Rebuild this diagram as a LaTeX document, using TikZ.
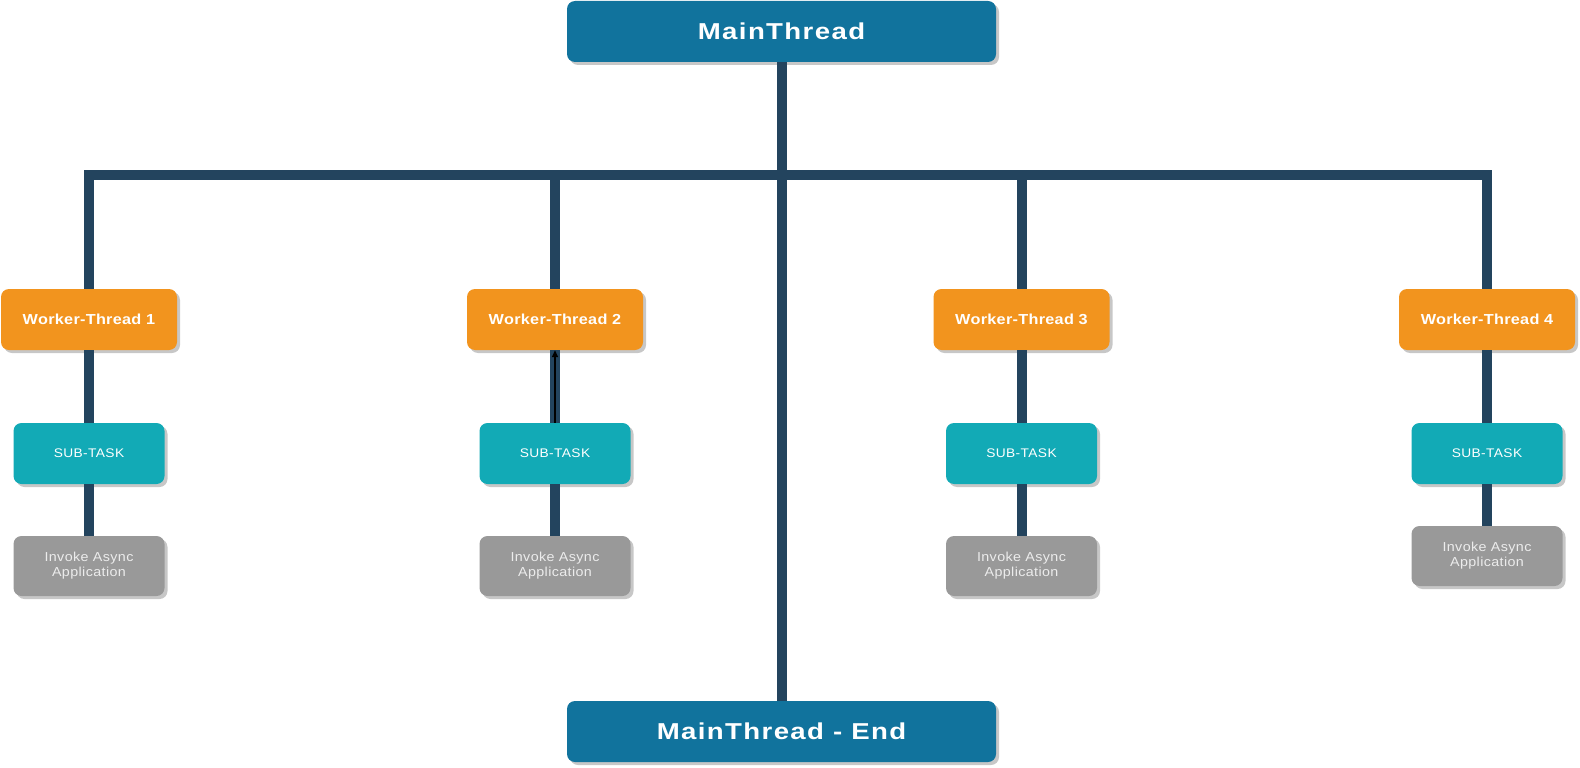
\documentclass[tikz,border=0pt]{standalone}
\usepackage{fontspec}
\setmainfont{Liberation Sans}
\newfontfamily\fmain[FakeStretch=1.2,LetterSpace=6]{Liberation Sans}
\newfontfamily\fworker[FakeStretch=1.12,LetterSpace=2]{Liberation Sans}
\newfontfamily\fsub[FakeStretch=1.1,LetterSpace=3]{Liberation Sans}
\newfontfamily\finv[FakeStretch=1.1,LetterSpace=3]{Liberation Sans}
\usetikzlibrary{shadows,arrows.meta}
\definecolor{mainblue}{RGB}{17,115,157}
\definecolor{workorange}{RGB}{242,148,30}
\definecolor{subteal}{RGB}{18,170,182}
\definecolor{invgrey}{RGB}{153,153,153}
\definecolor{invtext}{RGB}{236,236,236}
\definecolor{linecol}{RGB}{35,68,94}
\tikzset{
  boxbase/.style={rounded corners=8pt, inner sep=0pt, align=center,
    drop shadow={shadow xshift=3pt, shadow yshift=-3pt, fill=black, opacity=0.22}},
  mainbox/.style={boxbase, fill=mainblue, text=white, minimum width=429pt, minimum height=61pt,
    font=\fmain\bfseries\fontsize{23}{27}\selectfont},
  workerbox/.style={boxbase, fill=workorange, text=white, minimum width=176pt, minimum height=61pt,
    font=\fworker\bfseries\fontsize{14.5}{17}\selectfont},
  subbox/.style={boxbase, fill=subteal, text=white, minimum width=151pt, minimum height=61pt,
    font=\fsub\fontsize{12.5}{15}\selectfont},
  invbox/.style={boxbase, fill=invgrey, text=invtext, minimum width=151pt, minimum height=60pt,
    font=\finv\fontsize{13}{15}\selectfont},
  conn/.style={draw=linecol, line width=10pt, line join=miter},
  arr/.style={draw=black, line width=1.5pt, -{Triangle[length=7pt,width=6pt]}}
}
\begin{document}
\begin{tikzpicture}[x=1pt,y=-1pt]
\useasboundingbox[fill=white] (0,0) rectangle (1580,768);
\coordinate (bus) at (782,175);
% nodes
\node[mainbox] (mt) at (781.5,31.5) {MainThread};
\node[mainbox] (end) at (781.5,731.5) {MainThread - End};

\node[workerbox] (w1) at (89,319.5) {Worker-Thread 1};
\node[workerbox] (w2) at (555,319.5) {Worker-Thread 2};
\node[workerbox] (w3) at (1021.5,319.5) {Worker-Thread 3};
\node[workerbox] (w4) at (1487,319.5) {Worker-Thread 4};

\node[subbox] (s1) at (89,453.5) {SUB-TASK};
\node[subbox] (s2) at (555,453.5) {SUB-TASK};
\node[subbox] (s3) at (1021.5,453.5) {SUB-TASK};
\node[subbox] (s4) at (1487,453.5) {SUB-TASK};

\node[invbox] (i1) at (89,566) {Invoke Async\\Application};
\node[invbox] (i2) at (555,566) {Invoke Async\\Application};
\node[invbox] (i3) at (1021.5,566) {Invoke Async\\Application};
\node[invbox] (i4) at (1487,556) {Invoke Async\\Application};

% trunk and bus
\draw[conn] (mt.south) -- (end.north);
\draw[conn] (w1.north) |- (bus) -| (w4.north);
\draw[conn] (w2.north) -- (w2.north |- bus);
\draw[conn] (w3.north) -- (w3.north |- bus);
% column links
\draw[conn] (w1.south) -- (s1.north);
\draw[conn] (s1.south) -- (i1.north);
\draw[conn] (w2.south) -- (s2.north);
\draw[conn] (s2.south) -- (i2.north);
\draw[conn] (w3.south) -- (s3.north);
\draw[conn] (s3.south) -- (i3.north);
\draw[conn] (w4.south) -- (s4.north);
\draw[conn] (s4.south) -- (i4.north);
% arrow in column 2
\draw[arr] (s2.north) -- (w2.south);
\end{tikzpicture}
\end{document}
